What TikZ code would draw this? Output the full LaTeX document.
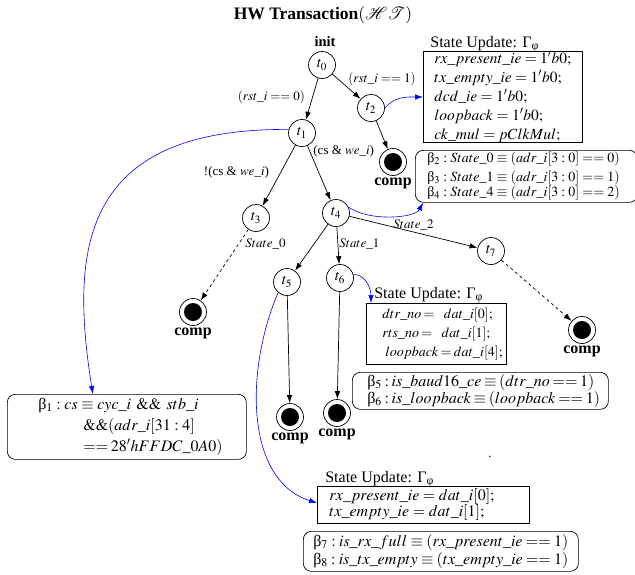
\documentclass[tikz,border=0pt]{standalone}
\usepackage{mathptmx}
\usepackage{fontspec}
\setmainfont{Liberation Serif}
\usetikzlibrary{arrows.meta}
\relpenalty=10000
\binoppenalty=10000

\begin{document}
\begin{tikzpicture}[x=1pt, y=-1pt, line width=0.7pt, font=\fontsize{13}{15}\selectfont]
            \tikzset{tnode/.style={circle, draw, minimum size=27pt, inner sep=0pt, font=\fontsize{15}{17}\selectfont},
                compnode/.style={circle, draw, minimum size=27pt, inner sep=0pt,
                    path picture={\fill (path picture bounding box.center) circle (9pt);},
                    label={[font=\bfseries\fontsize{16}{18}\selectfont, inner sep=2pt]below:comp}},
                trans/.style={arrows={-Latex[length=8pt,width=5.5pt]}},
                hint/.style={blue, semithick, arrows={-Latex[length=8pt,width=5.5pt]}},
                updbox/.style={draw, rectangle, anchor=north west, inner ysep=0pt, align=left},
                betabox/.style={updbox, rounded corners=8pt},
                updlbl/.style={anchor=base west, inner sep=0pt, font=\fontsize{16}{18}\selectfont}}
        \useasboundingbox (0,0) rectangle (635,574);

        \node[font=\bfseries\fontsize{17.5}{20}\selectfont] (title) at (323,15) {HW Transaction$(\mathcal{HT})$};

        \node[tnode] (t0) at (322,65) {$t_0$};
        \node[font=\bfseries\fontsize{14.5}{16}\selectfont, inner sep=0pt] (init) at (325,42) {init};
        \node[tnode] (t1) at (302,133) {$t_1$};
        \node[tnode] (t2) at (371,108) {$t_2$};
        \node[tnode] (t3) at (256,218) {$t_3$};
        \node[tnode] (t4) at (336,213) {$t_4$};
        \node[tnode] (t5) at (287,282) {$t_5$};
        \node[tnode] (t6) at (340,278) {$t_6$};
        \node[tnode] (t7) at (491,251) {$t_7$};

        \node[compnode] (c2) at (393,162) {};
        \node[compnode] (c3) at (193,312) {};
        \node[compnode] (c5) at (290,417) {};
        \node[compnode] (c6) at (337,413) {};
        \node[compnode] (c7) at (582,330) {};

        % state updates and guards
        \node[updlbl] (su1lbl) at (430,47) {State Update: Γ\textsubscript{φ}};
        \node[updbox, minimum width=159pt, minimum height=91pt, text width=137pt, inner xsep=11pt,
            font=\fontsize{15.5}{19}\selectfont] (su1) at (423,51) {$rx\_present\_ie = 1'b0;$\\ $tx\_empty\_ie = 1'b0;$\\
            $dcd\_ie = 1'b0;$\\ $loopback = 1'b0;$\\ $ck\_mul = pClkMul;$};
        \node[betabox, minimum width=222pt, minimum height=52pt, text width=198pt, inner xsep=12pt,
            font=\fontsize{14}{15}\selectfont] (b234) at (415,150) {\mbox{β$_2: State\_0 \equiv (adr\_i[3:0] == 0)$}\\[4pt]
            \mbox{β$_3: State\_1 \equiv (adr\_i[3:0] == 1)$}\\ \mbox{β$_4: State\_4 \equiv (adr\_i[3:0] == 2)$}};

        \node[updlbl] (su2lbl) at (374,298) {State Update: Γ\textsubscript{φ}};
        \node[updbox, minimum width=140pt, minimum height=61pt, text width=108pt, inner xsep=16pt,
            font=\fontsize{14}{19}\selectfont] (su2) at (366,303) {$dtr\_no =$~~$dat\_i[0];$\\ $rts\_no =$~~$dat\_i[1];$\\
            \hspace*{3pt}$loopback = dat\_i[4];$};
        \node[betabox, minimum width=256pt, minimum height=37pt, text width=226pt, inner xsep=15pt,
            font=\fontsize{16}{15.5}\selectfont] (b56) at (352,372) {β$_5: is\_baud16\_ce \equiv (dtr\_no == 1)$\\
            β$_6: is\_loopback \equiv (loopback == 1)$};

        \node[betabox, minimum width=239pt, minimum height=65pt, text width=177pt, inner xsep=31pt,
            font=\fontsize{16}{21}\selectfont] (b1) at (7,394) {β$_1: cs \equiv cyc\_i\ \&\&\ stb\_i$\\
            \hspace*{45pt}$\&\&(adr\_i[31:4]$\\ \hspace*{45pt}$== 28'hFFDC\_0A0)$};

        \node[anchor=base] (dot) at (490,457) {.};

        \node[updlbl] (su3lbl) at (325,482) {State Update: Γ\textsubscript{φ}};
        \node[updbox, minimum width=212pt, minimum height=37pt, text width=188pt, inner xsep=12pt,
            font=\fontsize{16}{16}\selectfont] (su3) at (317,486) {$rx\_present\_ie = dat\_i[0];$\\ $tx\_empty\_ie = dat\_i[1];$};
        \node[betabox, minimum width=275pt, minimum height=40pt, text width=255pt, inner xsep=10pt,
            font=\fontsize{16}{18}\selectfont] (b78) at (303,531) {β$_7: is\_rx\_full \equiv (rx\_present\_ie == 1)$\\
            β$_8: is\_tx\_empty \equiv (tx\_empty\_ie == 1)$};

        % transitions
        \draw[trans] (t0) -- node[left=4pt, pos=0.45] {$(rst\_i == 0)$} (t1);
        \draw[trans] (t0) -- node[above right, pos=0.52, inner sep=1pt] {$(rst\_i == 1)$} (t2);
        \draw[trans] (t1) -- node[left=8pt, pos=0.45] {!(cs \& $we\_i$)} (t3);
        \draw[trans] (t1) -- node[right, pos=0.1] {(cs \& $we\_i$)} (t4);
        \draw[trans] (t2) -- (c2);
        \draw[trans, dashed] (t3) -- node[right=3pt, pos=0.2] {$State\_0$} (c3);
        \draw[trans] (t4) -- (t5);
        \draw[trans] (t4) -- node[right, pos=0.46, inner sep=1pt] {$State\_1$} (t6);
        \draw[trans] (t4) -- node[above, pos=0.5, inner sep=1pt] {$State\_2$} (t7);
        \draw[trans] (t5) -- (c5);
        \draw[trans] (t6) -- (c6);
        \draw[trans, dashed] (t7) -- (c7);

        \draw[hint] (t1.165) .. controls (80,128) and (70,250) .. ([xshift=-34pt]b1.north);
        \draw[hint] (t2.east) to[out=50, in=180] ([yshift=-46pt]su1.north west);
        \draw[hint] (t4.25) .. controls (370,222) and (415,218) .. ([xshift=8pt]b234.south west);
        \draw[hint] (t6.15) to[out=0, in=90] ([xshift=5pt]su2.north west);
        \draw[hint] (t5.230) .. controls (245,370) and (245,480) .. ([yshift=-17pt]su3.north west);

        \end{tikzpicture}
\end{document}
